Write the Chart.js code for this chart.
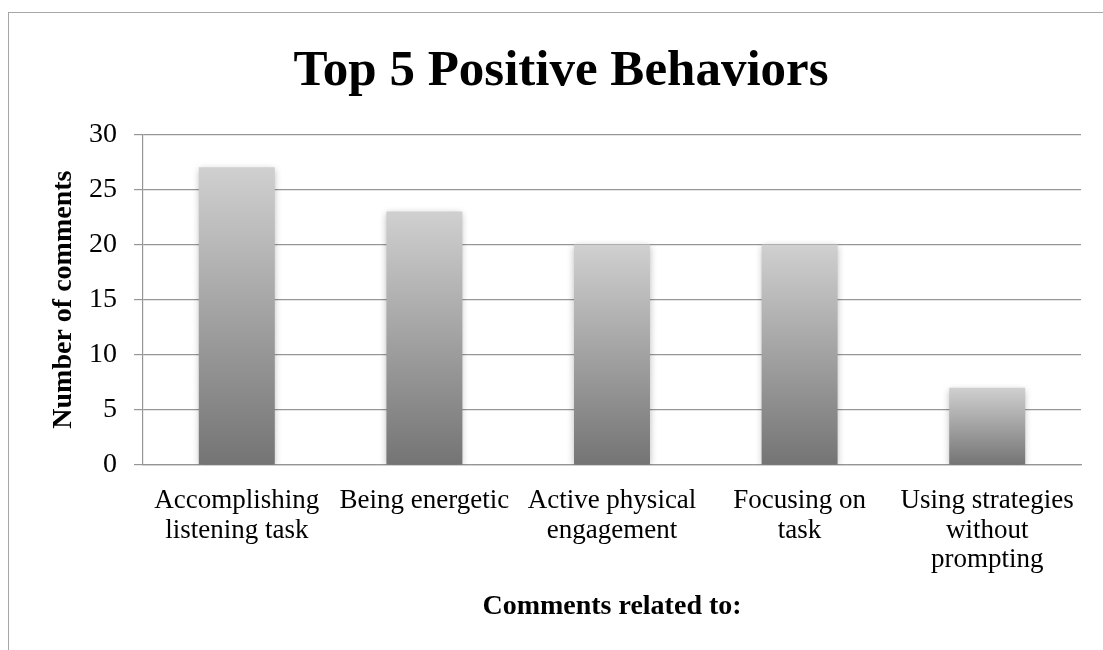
<!DOCTYPE html>
<html>
<head>
<meta charset="utf-8">
<script src="https://cdn.jsdelivr.net/npm/chart.js@4.4.1/dist/chart.umd.min.js"></script>
<style>
  html, body { margin: 0; padding: 0; background: #fff; overflow: hidden; }
  #frame { position: absolute; left: 8px; top: 12px; width: 1200px; height: 800px;
           border-left: 1px solid #a6a6a6; border-top: 1px solid #a6a6a6; }
  #graph { position: absolute; left: 0; top: 0; }
</style>
</head>
<body>
<div id="frame"></div>
<canvas id="graph" width="1103" height="650"></canvas>
<script>
// Chart data
var categories = [
    ['Accomplishing', 'listening task'],
    'Being energetic',
    ['Active physical', 'engagement'],
    ['Focusing on', 'task'],
    ['Using strategies', 'without', 'prompting']
];
var commentCounts = [27, 23, 20, 20, 7];
var yTicks = [0, 5, 10, 15, 20, 25, 30];

var serif = '"Liberation Serif", "Times New Roman", serif';

// Vertical gray gradient, one per bar (light at the top, dark at the base)
function barGradient(context) {
    var chart = context.chart;
    var yScale = chart.scales.y;
    if (!chart.chartArea || !yScale || context.parsed === undefined) return '#999';
    var top = yScale.getPixelForValue(context.parsed.y);
    var base = yScale.getPixelForValue(0);
    var g = chart.ctx.createLinearGradient(0, top, 0, base);
    g.addColorStop(0, '#d0d0d0');
    g.addColorStop(1, '#747474');
    return g;
}

// Soft shadow behind the bars
var barShadow = {
    id: 'barShadow',
    beforeDatasetsDraw: function (chart) {
        var ctx = chart.ctx;
        ctx.save();
        ctx.shadowColor = 'rgba(0,0,0,0.28)';
        ctx.shadowBlur = 7;
        ctx.shadowOffsetY = 2;
    },
    afterDatasetsDraw: function (chart) {
        chart.ctx.restore();
    }
};

var chart = new Chart(document.getElementById('graph'), {
    type: 'bar',
    data: {
        labels: categories,
        datasets: [{
            label: 'Number of comments',
            data: commentCounts,
            backgroundColor: barGradient,
            borderWidth: 0,
            categoryPercentage: 1,
            barPercentage: 0.405
        }]
    },
    plugins: [barShadow],
    options: {
        responsive: false,
        animation: false,
        layout: { padding: { left: 41, right: 22, top: 0, bottom: 0 } },
        plugins: {
            legend: { display: false },
            tooltip: { enabled: false },
            title: {
                display: true,
                text: 'Top 5 Positive Behaviors',
                color: '#000',
                font: { family: serif, size: 51, weight: 'bold', lineHeight: 1.2 },
                padding: { top: 41, bottom: 32 }
            }
        },
        scales: {
            x: {
                grid: { display: false },
                border: { display: true, color: '#969696', width: 1.2 },
                ticks: {
                    color: '#000',
                    font: { family: serif, size: 27, lineHeight: 1.1 },
                    padding: 13,
                    maxRotation: 0,
                    autoSkip: false
                },
                title: {
                    display: true,
                    text: 'Comments related to:',
                    color: '#000',
                    font: { family: serif, size: 28, weight: 'bold', lineHeight: 1.2 },
                    padding: { top: 0, bottom: 26 }
                },
                afterFit: function (scale) { scale.height = 650 - 465; }
            },
            y: {
                min: 0,
                max: 30,
                afterBuildTicks: function (scale) {
                    scale.ticks = yTicks.map(function (v) { return { value: v }; });
                },
                grid: { color: '#969696', lineWidth: 1.2, tickLength: 9, drawTicks: true },
                border: { display: true, color: '#969696', width: 1.2 },
                ticks: {
                    color: '#000',
                    font: { family: serif, size: 28 },
                    padding: 17
                },
                title: {
                    display: true,
                    text: 'Number of comments',
                    color: '#000',
                    font: { family: serif, size: 28, weight: 'bold', lineHeight: 1.2 },
                    padding: { top: 6, bottom: 0 }
                },
                afterFit: function (scale) { scale.width = 143 - 41; }
            }
        }
    }
});
</script>
</body>
</html>
